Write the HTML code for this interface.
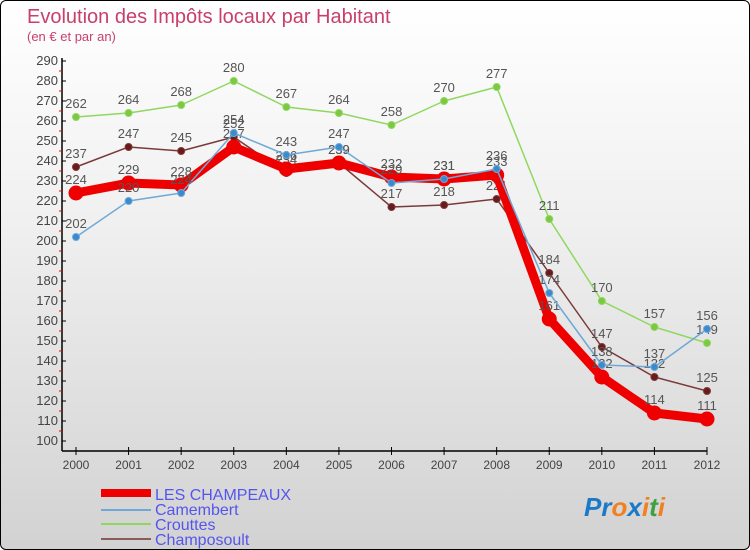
<!DOCTYPE html>
<html><head><meta charset="utf-8"><style>
body{margin:0}
#c{width:748px;height:548px;border:1px solid #000;border-radius:6px;overflow:hidden;background:linear-gradient(#fff 0%,#f0f0f0 40%,#d2d2d2 100%);position:relative;font-family:"Liberation Sans",sans-serif}
</style></head><body>
<div id="c">
<svg id="s" width="748" height="548" font-family="Liberation Sans, sans-serif">
<text x="26" y="22" font-size="20" fill="#c8406a">Evolution des Impôts locaux par Habitant</text>
<text x="26" y="40" font-size="13" fill="#c8406a">(en € et par an)</text>
<g id="axes"></g><g id="series"></g>
<g>
<rect x="100" y="488" width="50" height="8" fill="#e00"/>
<line x1="100" y1="509" x2="150" y2="509" stroke="#6fa8d6" stroke-width="2"/>
<line x1="100" y1="523" x2="150" y2="523" stroke="#8fd860" stroke-width="2"/>
<line x1="100" y1="538" x2="150" y2="538" stroke="#8b5a5a" stroke-width="2"/>
<text x="154" y="499" font-size="16" fill="#5555ee">LES CHAMPEAUX</text>
<text x="154" y="514" font-size="16" fill="#5555ee">Camembert</text>
<text x="154" y="529" font-size="16" fill="#5555ee">Crouttes</text>
<text x="154" y="544" font-size="16" fill="#5555ee">Champosoult</text>
</g>
<text x="583" y="515" font-size="26" font-weight="bold" font-style="italic"><tspan fill="#1a7ac8">Pr</tspan><tspan fill="#f08020">o</tspan><tspan fill="#1a7ac8">x</tspan><tspan fill="#f08020">i</tspan><tspan fill="#40a040">t</tspan><tspan fill="#f08020">i</tspan></text>
</svg></div>
<script>
const years=["2000","2001","2002","2003","2004","2005","2006","2007","2008","2009","2010","2011","2012"];
const champeaux=[224,229,228,247,236,239,232,231,233,161,132,114,111];
const camembert=[202,220,224,254,243,247,229,231,236,174,138,137,156];
const crouttes=[262,264,268,280,267,264,258,270,277,211,170,157,149];
const champosoult=[237,247,245,252,234,239,217,218,221,184,147,132,125];
const yTicks=[100,110,120,130,140,150,160,170,180,190,200,210,220,230,240,250,260,270,280,290];
const NS="http://www.w3.org/2000/svg";
const X=i=>75+i*(706-75)/12, Y=v=>440-(v-100)*2;
function mk(t,a,p){const e=document.createElementNS(NS,t);for(const k in a)e.setAttribute(k,a[k]);p.appendChild(e);return e;}
const ax=document.getElementById('axes');
let l=mk('line',{x1:61,y1:57,x2:61,y2:450,stroke:'#000','stroke-width':1.5},ax);


l=mk('line',{x1:61,y1:450,x2:706,y2:450,stroke:'#000','stroke-width':1.5},ax);


yTicks.forEach(v=>{
 mk('line',{x1:61,y1:Y(v),x2:65,y2:Y(v),stroke:'#000'},ax);
 if(v<290)mk('line',{x1:58,y1:Y(v+5),x2:61,y2:Y(v+5),stroke:'#e00'},ax);
 const t=mk('text',{x:57,y:Y(v)+4,'font-size':13,'text-anchor':'end',fill:'#444'},ax);t.textContent=v;
 
 
});
years.forEach((y,i)=>{
 mk('line',{x1:X(i),y1:446,x2:X(i),y2:454,stroke:'#000'},ax);
 const t=mk('text',{x:X(i),y:468,'font-size':12,'text-anchor':'middle',fill:'#444'},ax);t.textContent=y;
 
 
});
const sg=document.getElementById('series');
function draw(d,name,col,w,r,dot){
 const g=mk('g',{},sg);
 
 
 mk('polyline',{points:d.map((v,i)=>X(i)+','+Y(v)).join(' '),fill:'none',stroke:col,'stroke-width':w,'stroke-linejoin':'round'},g);
 d.forEach((v,i)=>{
  const c=mk('circle',{cx:X(i),cy:Y(v),r:r,fill:dot,stroke:col,'stroke-width':1},g);
  
  
  const t=mk('text',{x:X(i),y:Y(v)-9,'font-size':13,'text-anchor':'middle',fill:'#555'},g);t.textContent=v;
  
  
 });
}
draw(crouttes,'crouttes','#8fd860',1.5,3.5,'#7cc840');
draw(champosoult,'champosoult','#7a3a3a',1.5,3.5,'#6a1a1a');
draw(champeaux,'les-champeaux','#e00',9,7,'#e00');
draw(camembert,'camembert','#6fa8d6',1.5,3.5,'#3a8ad0');
</script>
</body></html>
